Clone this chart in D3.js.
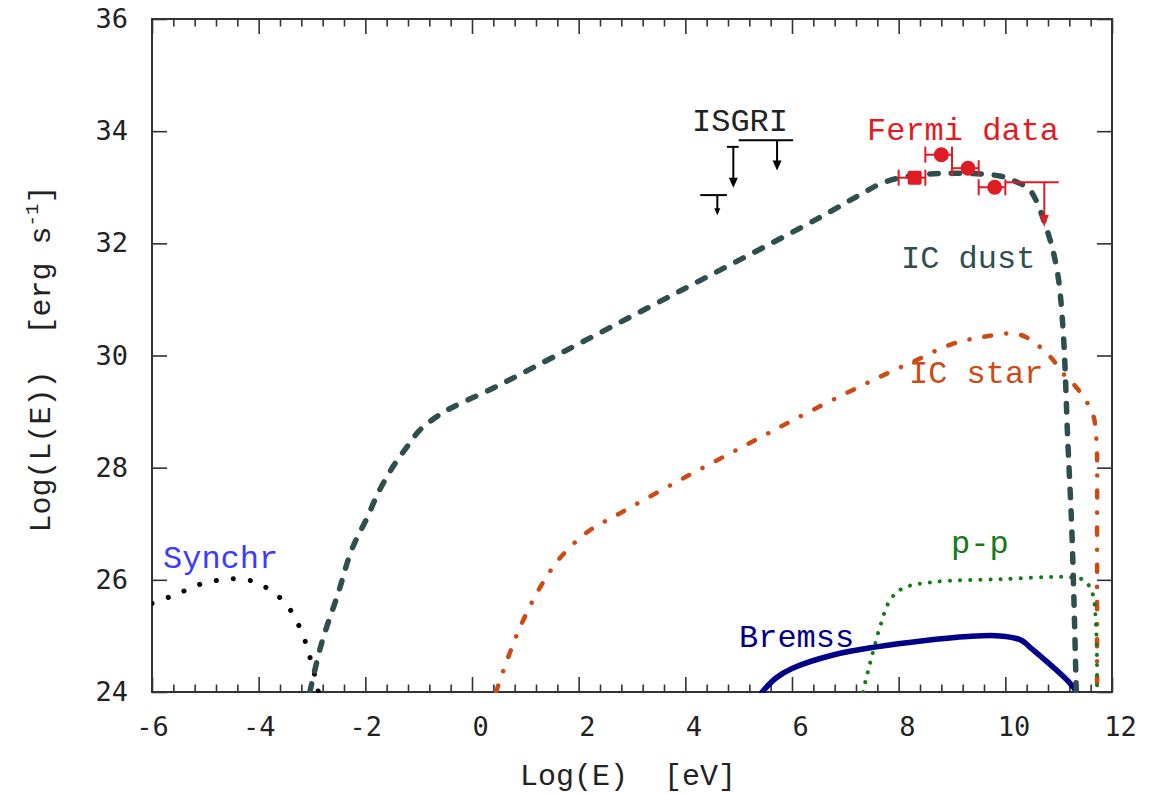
<!DOCTYPE html>
<html>
<head>
<meta charset="utf-8">
<script src="https://cdn.jsdelivr.net/npm/d3@7/dist/d3.min.js"></script>
<style>
  html, body { margin: 0; padding: 0; background: #fff; }
  svg { display: block; }
  .tick text { font-family: "DejaVu Sans Mono", monospace; font-size: 27px; fill: #222; white-space: pre; }
  .lbl { font-family: "Liberation Mono", monospace; font-size: 32px; white-space: pre; }
</style>
</head>
<body>
<svg id="chart" width="1151" height="795"></svg>
<script>
// ---- axis ticks ----
const xMajorTicks = [-6, -4, -2, 0, 2, 4, 6, 8, 10, 12];
const yMajorTicks = [24, 26, 28, 30, 32, 34, 36];

// ---- model components: [log E (eV), log L (erg/s)] ----
const synchr = [[-6.0,25.58],[-5.66,25.7],[-5.35,25.82],[-5.04,25.94],[-4.69,26.0],[-4.38,26.02],
  [-4.03,25.95],[-3.75,25.79],[-3.5,25.59],[-3.32,25.32],[-3.17,25.02],[-3.07,24.72],[-2.98,24.42],[-2.88,24.0]];

const icDust = [[-3.04,24.0],[-2.82,24.87],[-2.51,25.76],[-2.25,26.55],[-1.97,27.1],[-1.76,27.55],
  [-1.48,28.02],[-1.22,28.37],[-0.98,28.67],[-0.66,28.91],[-0.4,29.06],[0.4,29.42],[1.5,29.96],
  [4.0,31.2],[6.5,32.45],[7.3,32.88],[7.7,33.08],[8.2,33.2],[9.0,33.25],[9.9,33.2],[10.2,33.1],
  [10.46,32.95],[10.78,32.24],[10.97,31.52],[11.08,30.5],[11.17,28.5],[11.25,26.8],[11.33,24.0]];

const icStar = [[0.45,24.0],[0.71,24.7],[0.96,25.28],[1.28,25.87],[1.65,26.39],[2.16,26.85],[2.78,27.19],
  [3.96,27.81],[5.21,28.44],[6.39,29.03],[7.65,29.62],[8.34,29.92],[8.96,30.19],[9.58,30.33],
  [10.28,30.37],[10.84,29.98],[11.06,29.7],[11.27,29.5],[11.49,29.23],[11.65,28.93],[11.7,28.6],
  [11.72,28.2],[11.72,27.0],[11.72,24.0]];

const pp = [[7.33,24.0],[7.46,24.5],[7.65,25.16],[7.84,25.64],[8.08,25.85],[8.64,25.96],[9.9,26.01],
  [11.15,26.05],[11.46,26.0],[11.62,25.8],[11.7,25.2],[11.72,24.0]];

const bremss = [[5.44,24.0],[5.7,24.25],[6.0,24.42],[6.77,24.66],[7.55,24.8],[8.5,24.92],[9.3,24.99],
  [9.9,25.0],[10.28,24.93],[10.52,24.75],[11.21,24.16],[11.34,24.0]];

// ---- Fermi-LAT points: bin edges, centre, log L ----
const fermiLo  = [8.0, 8.5, 9.0, 9.5];
const fermiHi  = [8.5, 9.0, 9.5, 10.0];
const fermiE   = [8.3, 8.8, 9.3, 9.8];
const fermiL   = [33.17, 33.58, 33.34, 33.0];
// Fermi upper limit
const fermiUL  = { lo: 10.0, hi: 11.0, e: 10.73, top: 33.09, tip: 32.29 };

// ---- ISGRI upper limits ----
const isgriLo  = [4.28, 4.78, 5.0];
const isgriHi  = [4.78, 5.0, 6.02];
const isgriE   = [4.6, 4.9, 5.72];
const isgriTop = [32.86, 33.72, 33.84];
const isgriTip = [32.5, 32.99, 33.3];

// ---- layout ----
const svg = d3.select("#chart");
const x = d3.scaleLinear().domain([-6, 12]).range([152, 1112]);
const y = d3.scaleLinear().domain([24, 36]).range([692, 19]);
const [x0, x1] = x.range();
const [y0, y1] = y.range();

const axisColor = "#333";
const fmt = v => (v < 0 ? "-" + (-v) : "\u00a0" + v);

// minor ticks on top/bottom every 0.4
const minorX = d3.range(-6, 12.0001, 0.4).map(v => +v.toFixed(2)).filter(v => Math.abs(v/2 - Math.round(v/2)) > 1e-6);

// bottom axis
svg.append("g").attr("transform", `translate(0,${y0})`)
  .call(d3.axisBottom(x).tickValues(xMajorTicks).tickFormat(fmt).tickSizeInner(-15).tickSizeOuter(0).tickPadding(25));
svg.append("g").attr("transform", `translate(0,${y0})`)
  .call(d3.axisBottom(x).tickValues(minorX).tickFormat("").tickSizeInner(-7.5).tickSizeOuter(0));
// top axis
svg.append("g").attr("transform", `translate(0,${y1})`)
  .call(d3.axisTop(x).tickValues(xMajorTicks).tickFormat("").tickSizeInner(-15).tickSizeOuter(0));
svg.append("g").attr("transform", `translate(0,${y1})`)
  .call(d3.axisTop(x).tickValues(minorX).tickFormat("").tickSizeInner(-7.5).tickSizeOuter(0));
// left axis
svg.append("g").attr("transform", `translate(${x0},0)`)
  .call(d3.axisLeft(y).tickValues(yMajorTicks).tickFormat(d3.format("d")).tickSizeInner(-15).tickSizeOuter(0).tickPadding(24));
// right axis
svg.append("g").attr("transform", `translate(${x1},0)`)
  .call(d3.axisRight(y).tickValues(yMajorTicks).tickFormat("").tickSizeInner(-15).tickSizeOuter(0));

svg.selectAll(".domain").remove();
svg.selectAll(".tick line").attr("stroke", axisColor).attr("stroke-width", 1.6);

// frame
svg.append("rect").attr("x", x0).attr("y", y1).attr("width", x1 - x0).attr("height", y0 - y1)
  .attr("fill", "none").attr("stroke", axisColor).attr("stroke-width", 2);

// axis titles
svg.append("text").attr("class", "lbl").attr("x", (x0 + x1) / 2 - 4).attr("y", 785)
  .attr("text-anchor", "middle").attr("fill", "#222").style("font-size", "30px").text("Log(E)  [eV]");

const yt = svg.append("text").attr("class", "lbl").attr("transform", "translate(50,359) rotate(-90)")
  .attr("text-anchor", "middle").attr("fill", "#222").style("font-size", "30px");
yt.append("tspan").text("Log(L(E))  [erg s");
yt.append("tspan").attr("dy", -12).style("font-size", "19px").text("-1");
yt.append("tspan").attr("dy", 12).text("]");

// clip for model curves
svg.append("clipPath").attr("id", "plotClip").append("rect")
  .attr("x", x0).attr("y", y1).attr("width", x1 - x0).attr("height", y0 - y1 + 1);

const line = d3.line().x(d => x(d[0])).y(d => y(d[1])).curve(d3.curveCatmullRom.alpha(0.5));
const curves = svg.append("g").attr("clip-path", "url(#plotClip)");

function drawCurve(data, color, width, dash) {
  curves.append("path").datum(data).attr("d", line)
    .attr("fill", "none").attr("stroke", color).attr("stroke-width", width)
    .attr("stroke-linecap", "round").attr("stroke-linejoin", "round")
    .attr("stroke-dasharray", dash);
}

drawCurve(synchr, "#000", 5, "0.1 17");
drawCurve(icStar, "#cc4a14", 4.5, "7 15 0.1 15");
drawCurve(pp, "#157a15", 4, "0.1 10");
drawCurve(bremss, "#000088", 5.5, null);
drawCurve(icDust, "#2f4f4f", 5.5, "8.5 13");

// ISGRI upper limits
const isgri = svg.append("g").attr("stroke", "#000").attr("stroke-width", 2);
isgriE.forEach((e, i) => {
  isgri.append("line").attr("x1", x(isgriLo[i])).attr("x2", x(isgriHi[i]))
    .attr("y1", y(isgriTop[i])).attr("y2", y(isgriTop[i]));
  const tipY = y(isgriTip[i]);
  const head = i === 0 ? 7 : 10, half = i === 0 ? 3 : 4.5;
  isgri.append("line").attr("x1", x(e)).attr("x2", x(e))
    .attr("y1", y(isgriTop[i])).attr("y2", tipY - head + 1);
  isgri.append("path").attr("stroke", "none").attr("fill", "#000")
    .attr("d", `M${x(e) - half},${tipY - head}L${x(e) + half},${tipY - head}L${x(e)},${tipY}Z`);
});

// Fermi points
const red = "#e01b24";
const fermi = svg.append("g").attr("stroke", red).attr("stroke-width", 2);
fermiE.forEach((e, i) => {
  const cy = y(fermiL[i]);
  fermi.append("line").attr("x1", x(fermiLo[i])).attr("x2", x(fermiHi[i])).attr("y1", cy).attr("y2", cy);
  [fermiLo[i], fermiHi[i]].forEach(b => {
    fermi.append("line").attr("x1", x(b)).attr("x2", x(b)).attr("y1", cy - 8).attr("y2", cy + 8);
  });
  if (i === 0) {
    fermi.append("rect").attr("x", x(e) - 7).attr("y", cy - 7).attr("width", 14).attr("height", 14)
      .attr("rx", 2).attr("fill", red).attr("stroke", "none");
  } else {
    fermi.append("circle").attr("cx", x(e)).attr("cy", cy).attr("r", 7.5).attr("fill", red).attr("stroke", "none");
  }
});
{
  const ty = y(fermiUL.top), tip = y(fermiUL.tip), ex = x(fermiUL.e);
  fermi.append("line").attr("x1", x(fermiUL.lo)).attr("x2", x(fermiUL.hi)).attr("y1", ty).attr("y2", ty);
  fermi.append("line").attr("x1", ex).attr("x2", ex).attr("y1", ty).attr("y2", tip - 10);
  fermi.append("path").attr("stroke", "none").attr("fill", red)
    .attr("d", `M${ex - 4.5},${tip - 12}L${ex + 4.5},${tip - 12}L${ex},${tip}Z`);
}

// component labels
const labels = [
  { t: "Synchr",     x: 163, y: 568, c: "#3b3bff" },
  { t: "ISGRI",      x: 692, y: 131, c: "#222" },
  { t: "Fermi data", x: 867, y: 140, c: "#e01b24" },
  { t: "IC dust",    x: 901, y: 268, c: "#2f4f4f" },
  { t: "IC star",    x: 909, y: 383, c: "#cc4a14" },
  { t: "p-p",        x: 951, y: 553, c: "#157a15" },
  { t: "Bremss",     x: 739, y: 647, c: "#000088" }
];
svg.append("g").selectAll("text").data(labels).join("text")
  .attr("class", "lbl").attr("x", d => d.x).attr("y", d => d.y).attr("fill", d => d.c).text(d => d.t);
</script>
</body>
</html>
